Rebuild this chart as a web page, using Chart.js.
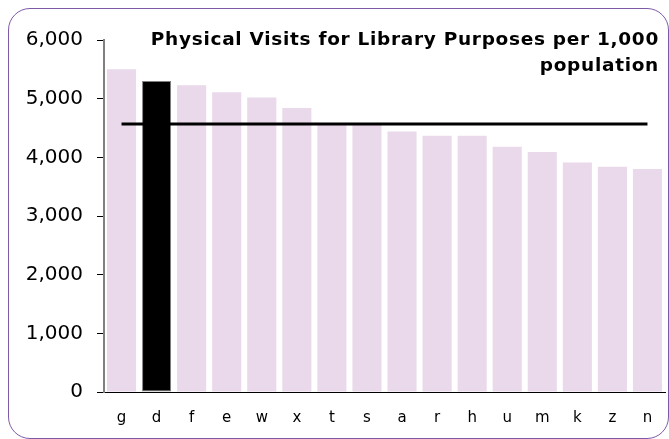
<!DOCTYPE html>
<html>
<head>
<meta charset="utf-8">
<script src="https://cdn.jsdelivr.net/npm/chart.js@4/dist/chart.umd.min.js"></script>
<style>
  body { margin: 0; background: #fff; }
  #wrap { position: relative; width: 669px; height: 439px; overflow: hidden; }
  #frame {
    position: absolute; left: 8px; top: 8px; width: 661px; height: 431px;
    border: 1.5px solid #7e5aa6; border-radius: 22px; box-sizing: border-box;
  }
  #chart { position: absolute; left: 0; top: 0; }
  #title {
    position: absolute; right: 10px; top: 26px;
    font: bold 18.5px Verdana, "DejaVu Sans", sans-serif;
    letter-spacing: 0.7px;
    line-height: 26px; text-align: right; color: #000;
  }
</style>
</head>
<body>
<div id="wrap">
  <div id="frame"></div>
  <canvas id="chart" width="669" height="439"></canvas>
  <div id="title">Physical Visits for Library Purposes per 1,000<br>population</div>
</div>
<script>
const categories = ["g", "d", "f", "e", "w", "x", "t", "s", "a", "r", "h", "u", "m", "k", "z", "n"];
const visits = [5500, 5300, 5230, 5110, 5020, 4840, 4560, 4550, 4440, 4370, 4370, 4180, 4090, 3910, 3840, 3800];
const average = [4570, 4570, 4570, 4570, 4570, 4570, 4570, 4570, 4570, 4570, 4570, 4570, 4570, 4570, 4570, 4570];
const highlighted = "d";

const chartCanvas = document.querySelector("#chart");
const fontFamily = 'Verdana, "DejaVu Sans", sans-serif';

const barColors = categories.map((c) => (c === highlighted ? "#000000" : "#ead9eb"));
const barBorders = categories.map((c) => (c === highlighted ? 1 : 0));

const visitsChart = new Chart(chartCanvas, {
  type: "bar",
  data: {
    labels: categories,
    datasets: [
      {
        type: "line",
        label: "Average",
        data: average,
        borderColor: "#000",
        borderWidth: 3,
        pointRadius: 0,
        fill: false,
        order: 0,
      },
      {
        label: "Visits",
        data: visits,
        backgroundColor: barColors,
        borderColor: "#808080",
        borderWidth: barBorders,
        borderSkipped: false,
        barPercentage: 0.83,
        categoryPercentage: 1,
        order: 1,
      },
    ],
  },
  options: {
    responsive: false,
    animation: false,
    layout: {
      padding: { left: 0, right: 4, top: 40, bottom: 0 },
    },
    plugins: {
      legend: { display: false },
      tooltip: { enabled: false },
    },
    scales: {
      x: {
        grid: { display: false },
        border: { color: "#000", width: 1 },
        ticks: {
          color: "#000",
          padding: 9,
          font: { family: fontFamily, size: 15 },
        },
        afterFit: (scale) => { scale.height = 47; },
      },
      y: {
        min: 0,
        max: 6000,
        ticks: {
          stepSize: 1000,
          color: "#000",
          padding: 14,
          font: { family: fontFamily, size: 20 },
          callback: (v) => v.toLocaleString("en-US"),
        },
        grid: {
          drawOnChartArea: false,
          drawTicks: true,
          tickLength: 7,
          color: "#000",
        },
        border: { color: "#808080", width: 2 },
        afterFit: (scale) => { scale.width = 104; },
      },
    },
  },
});
</script>
</body>
</html>
